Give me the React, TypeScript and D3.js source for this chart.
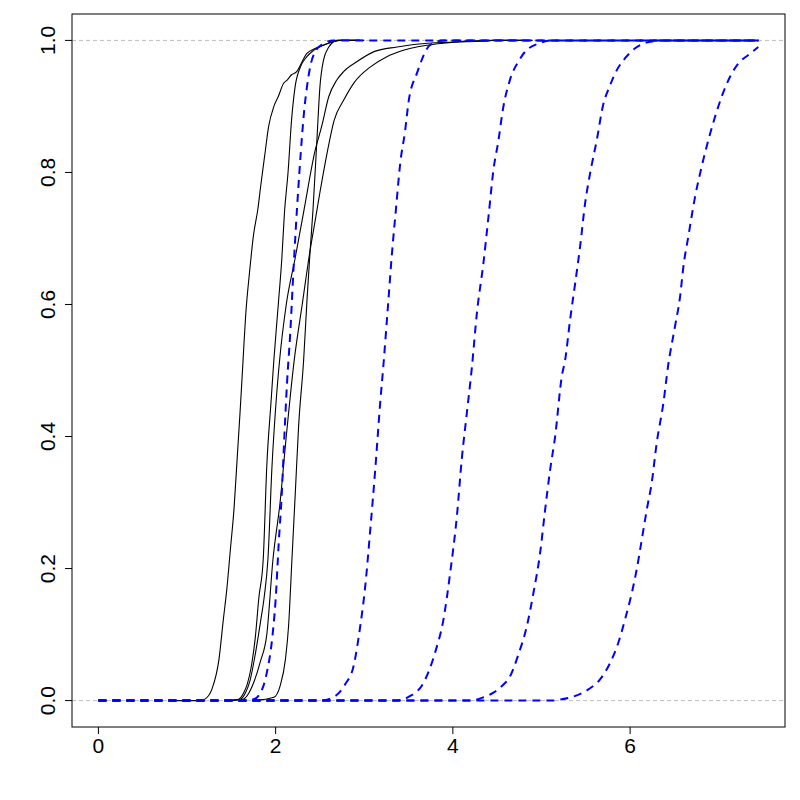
import React from "react";
import * as d3 from "d3";

type Pt = [number, number];

// Empirical CDFs (black, solid)
const blackA: Pt[] = [[0.85,0],[1.15,0],[1.21,0.003],[1.28,0.017],[1.36,0.062],[1.41,0.123],[1.45,0.17],[1.49,0.23],[1.53,0.29],[1.565,0.365],[1.60,0.44],[1.63,0.51],[1.66,0.58],[1.71,0.655],[1.75,0.705],[1.80,0.745],[1.83,0.778],[1.88,0.829],[1.92,0.869],[1.98,0.90],[2.03,0.915],[2.09,0.935],[2.13,0.94],[2.18,0.948],[2.24,0.953],[2.30,0.968],[2.35,0.98],[2.45,0.988],[2.58,0.995],[2.73,1],[3.0,1]];
const blackB: Pt[] = [[1.45,0],[1.58,0.002],[1.64,0.012],[1.68,0.025],[1.73,0.055],[1.77,0.095],[1.81,0.155],[1.86,0.214],[1.90,0.355],[1.95,0.456],[1.98,0.516],[2.03,0.6],[2.07,0.67],[2.10,0.74],[2.14,0.80],[2.18,0.88],[2.22,0.93],[2.28,0.96],[2.35,0.975],[2.43,0.985],[2.58,0.995],[2.7,1],[2.95,1]];
const blackC: Pt[] = [[1.75,0],[1.98,0.005],[2.05,0.022],[2.11,0.062],[2.146,0.113],[2.184,0.214],[2.222,0.315],[2.259,0.415],[2.316,0.516],[2.354,0.607],[2.39,0.683],[2.42,0.74],[2.466,0.85],[2.50,0.93],[2.54,0.97],[2.60,0.99],[2.654,0.998],[2.70,1],[2.95,1]];
const blackD: Pt[] = [[1.45,0],[1.60,0.002],[1.66,0.012],[1.71,0.03],[1.77,0.07],[1.83,0.12],[1.872,0.158],[1.913,0.214],[1.959,0.355],[2.007,0.456],[2.045,0.516],[2.12,0.6],[2.22,0.67],[2.316,0.74],[2.447,0.834],[2.52,0.87],[2.60,0.915],[2.69,0.94],[2.77,0.953],[2.92,0.968],[3.11,0.983],[3.37,0.99],[3.75,0.996],[4.38,0.999],[4.45,1],[4.8,1]];
const blackE: Pt[] = [[1.5,0],[1.63,0.002],[1.70,0.012],[1.76,0.03],[1.83,0.06],[1.90,0.1],[1.97,0.214],[2.05,0.3],[2.12,0.4],[2.21,0.516],[2.30,0.6],[2.39,0.683],[2.45,0.73],[2.50,0.77],[2.58,0.829],[2.66,0.879],[2.77,0.91],[2.88,0.935],[3.07,0.96],[3.25,0.975],[3.44,0.985],[3.83,0.995],[4.45,1],[4.9,1]];

// Theoretical CDFs (blue, dashed)
const blue1: Pt[] = [[0,0],[1.6,0],[1.75,0.002],[1.83,0.012],[1.90,0.042],[1.96,0.093],[2.0,0.153],[2.035,0.239],[2.07,0.315],[2.095,0.39],[2.128,0.48],[2.165,0.557],[2.203,0.657],[2.241,0.745],[2.27,0.804],[2.297,0.854],[2.323,0.895],[2.354,0.93],[2.39,0.96],[2.447,0.983],[2.54,0.995],[2.65,1],[7.45,1]];
const blue2: Pt[] = [[0,0],[2.5,0],[2.673,0.007],[2.786,0.025],[2.879,0.052],[2.955,0.113],[3.011,0.173],[3.068,0.259],[3.124,0.35],[3.18,0.451],[3.218,0.511],[3.27,0.602],[3.31,0.673],[3.36,0.748],[3.406,0.814],[3.462,0.864],[3.50,0.907],[3.594,0.95],[3.744,0.993],[3.9,1],[7.45,1]];
const blue3: Pt[] = [[0,0],[3.35,0],[3.519,0.007],[3.669,0.027],[3.80,0.073],[3.894,0.123],[3.97,0.194],[4.045,0.279],[4.10,0.365],[4.158,0.436],[4.214,0.504],[4.271,0.587],[4.345,0.663],[4.402,0.733],[4.458,0.804],[4.515,0.849],[4.564,0.895],[4.646,0.941],[4.74,0.968],[4.816,0.983],[4.985,0.996],[5.1,1],[7.45,1]];
const blue4: Pt[] = [[0,0],[4.2,0],[4.345,0.005],[4.458,0.012],[4.553,0.022],[4.646,0.037],[4.74,0.07],[4.835,0.113],[4.909,0.163],[4.985,0.224],[5.041,0.289],[5.098,0.35],[5.154,0.40],[5.229,0.491],[5.267,0.516],[5.323,0.577],[5.38,0.632],[5.436,0.688],[5.492,0.753],[5.549,0.799],[5.624,0.849],[5.692,0.90],[5.774,0.932],[5.85,0.955],[5.943,0.973],[6.056,0.988],[6.225,0.998],[6.4,1],[7.45,1]];
const blue5: Pt[] = [[0,0],[5.1,0],[5.229,0.002],[5.399,0.008],[5.53,0.017],[5.661,0.032],[5.774,0.057],[5.868,0.088],[5.943,0.123],[6.019,0.163],[6.075,0.199],[6.132,0.244],[6.188,0.289],[6.244,0.33],[6.30,0.39],[6.376,0.451],[6.43,0.508],[6.507,0.567],[6.564,0.612],[6.601,0.657],[6.657,0.703],[6.733,0.763],[6.808,0.809],[6.883,0.849],[6.958,0.884],[7.034,0.915],[7.128,0.945],[7.221,0.965],[7.334,0.978],[7.447,0.99]];

const blackSeries = [blackA, blackB, blackC, blackD, blackE];
const blueSeries = [blue1, blue2, blue3, blue4, blue5];
const xTicks = [0, 2, 4, 6];
const yTicks = [0, 0.2, 0.4, 0.6, 0.8, 1.0];
const refLines = [0, 1];

const W = 800, H = 800;
const L = 72, R = 785, T = 14, B = 727;

export default function App() {
  const allX = [...blackSeries, ...blueSeries].flat().map(p => p[0]);
  const xMin = 0;
  const xMax = d3.max(allX) as number;
  const dx = (xMax - xMin) * 0.04;
  const x = d3.scaleLinear().domain([xMin - dx, xMax + dx]).range([L, R]);
  const y = d3.scaleLinear().domain([-0.04, 1.04]).range([B, T]);
  const line = d3.line<Pt>().x(d => x(d[0])).y(d => y(d[1])).curve(d3.curveMonotoneX);
  const font = "'Liberation Sans', Arial, sans-serif";

  return (
    <svg width={W} height={H} style={{ position: "fixed", left: 0, top: 0, background: "#fff" }}>
      <rect x={0} y={0} width={W} height={H} fill="#fff" />
      {refLines.map(v => (
        <line key={v} x1={L} x2={R} y1={y(v)} y2={y(v)} stroke="#bebebe" strokeWidth={1} strokeDasharray="4,3" />
      ))}
      {blackSeries.map((s, i) => (
        <path key={"k" + i} d={line(s) || ""} fill="none" stroke="#000" strokeWidth={1.1} />
      ))}
      {blueSeries.map((s, i) => (
        <path key={"b" + i} d={line(s) || ""} fill="none" stroke="#0000ff" strokeWidth={2} strokeDasharray="8,6" />
      ))}
      <rect x={L} y={T} width={R - L} height={B - T} fill="none" stroke="#000" strokeWidth={1} />
      {xTicks.map(t => (
        <g key={"x" + t}>
          <line x1={x(t)} x2={x(t)} y1={B} y2={B + 7} stroke="#000" />
          <text x={x(t)} y={753} textAnchor="middle" fontSize={21} fontFamily={font} fill="#000">{t}</text>
        </g>
      ))}
      {yTicks.map(t => (
        <g key={"y" + t}>
          <line x1={L - 7} x2={L} y1={y(t)} y2={y(t)} stroke="#000" />
          <text transform={`translate(55,${y(t)}) rotate(-90)`} textAnchor="middle" fontSize={21} fontFamily={font} fill="#000">{t.toFixed(1)}</text>
        </g>
      ))}
    </svg>
  );
}
